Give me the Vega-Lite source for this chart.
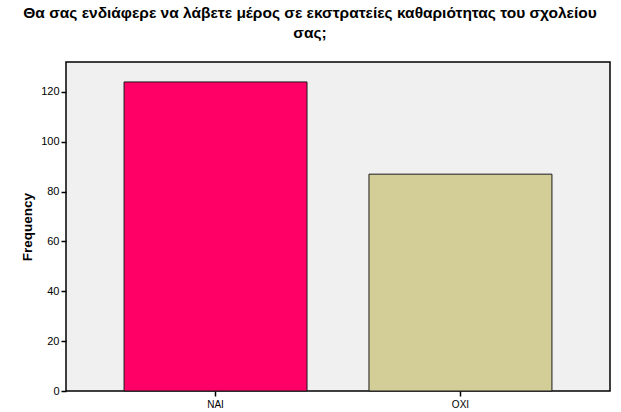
{
  "$schema": "https://vega.github.io/schema/vega-lite/v6.json",
  "width": 544,
  "height": 329,
  "autosize": {"type": "none"},
  "padding": {"left": 66, "top": 62, "right": 11, "bottom": 21},
  "background": "white",
  "title": {
    "text": ["Θα σας ενδιάφερε να λάβετε μέρος σε εκστρατείες καθαριότητας του σχολείου", "σας;"],
    "anchor": "middle",
    "dx": -28,
    "offset": 21,
    "font": "Liberation Sans",
    "fontSize": 15.5,
    "fontWeight": "bold",
    "lineHeight": 20,
    "color": "black"
  },
  "data": {
    "values": [
      {"answer": "ΝΑΙ", "count": 124},
      {"answer": "ΟΧΙ", "count": 87}
    ]
  },
  "mark": {"type": "bar", "stroke": "#1a1a1a", "strokeWidth": 1},
  "encoding": {
    "x": {
      "field": "answer",
      "type": "nominal",
      "sort": null,
      "scale": {"paddingInner": 0.253, "paddingOuter": 0.237},
      "axis": {
        "title": null,
        "labelAngle": 0,
        "labelFontSize": 10,
        "labelPadding": 3,
        "tickSize": 5,
        "domain": false
      }
    },
    "y": {
      "field": "count",
      "type": "quantitative",
      "scale": {"domain": [0, 132], "nice": false},
      "axis": {
        "title": "Frequency",
        "titleFontSize": 13.5,
        "titleFontWeight": "bold",
        "titlePadding": 6,
        "values": [0, 20, 40, 60, 80, 100, 120],
        "labelFontSize": 11,
        "tickSize": 5,
        "grid": false,
        "domain": false
      }
    },
    "color": {
      "field": "answer",
      "type": "nominal",
      "scale": {"range": ["#ff0066", "#d3ce97"]},
      "legend": null
    }
  },
  "config": {
    "font": "Liberation Sans",
    "view": {"fill": "#f0f0f0", "stroke": "#000000", "strokeWidth": 1.5},
    "axis": {
      "labelColor": "black",
      "titleColor": "black",
      "tickColor": "black",
      "tickWidth": 1.5,
      "labelFont": "Liberation Sans",
      "titleFont": "Liberation Sans"
    }
  }
}
